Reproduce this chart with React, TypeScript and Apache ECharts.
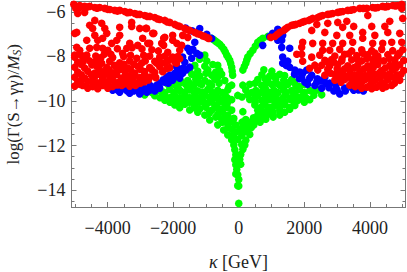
import React, { useEffect, useRef } from "react";
import * as echarts from "echarts";

const xLabels = [-4000, -2000, 0, 2000, 4000];
const yLabels = [-14, -12, -10, -8, -6];
const xMinor = [-5000,-4500,-3500,-3000,-2500,-1500,-1000,-500,500,1000,1500,2500,3000,3500,4500,5000];
const yMinor = [-14.5,-13.5,-13,-12.5,-11.5,-11,-10.5,-9.5,-9,-8.5,-7.5,-7,-6.5,-5.5];

const redLeftArc = [[-5030,-5.66],[-4970,-5.84],[-4850,-5.71],[-4700,-5.75],[-4545,-5.75],[-4390,-5.8],[-4240,-5.8],[-4085,-5.84],[-3930,-5.89],[-3780,-5.93],[-3630,-5.93],[-3475,-5.98],[-3320,-6.02],[-3170,-6.07],[-3020,-6.11],[-2865,-6.16],[-2710,-6.2],[-2560,-6.25],[-2410,-6.34],[-2255,-6.38],[-2100,-6.47],[-1950,-6.56],[-1800,-6.65],[-1645,-6.74],[-1495,-6.83],[-1340,-6.92],[-1190,-7.0],[-1035,-7.1],[-915,-7.19],[-4620,-5.78],[-4320,-5.83],[-4000,-5.88],[-3700,-5.96],[-3400,-6.03],[-3100,-6.11],[-2790,-6.2],[-2480,-6.31],[-2180,-6.45],[-1870,-6.62],[-1570,-6.8],[-1260,-6.98],[-1110,-7.07],[-960,-7.16]];
const redLeftSparse = [[-4850,-5.8],[-4910,-6.07],[-4700,-6.02],[-4390,-6.38],[-4545,-6.6],[-4180,-6.51],[-4455,-6.74],[-4085,-6.74],[-4940,-6.92],[-5000,-6.96],[-4390,-7.05],[-4635,-7.27],[-4025,-6.96],[-3630,-6.69],[-3265,-6.47],[-3265,-6.65],[-2835,-6.74],[-3630,-7.05],[-3720,-7.27],[-3875,-7.41],[-4150,-7.18],[-4300,-7.27],[-2625,-6.96],[-3325,-7.41],[-3415,-7.63],[-2930,-7.18],[-2775,-7.41],[-3080,-7.5],[-3540,-7.86],[-4940,-7.59],[-5000,-7.94],[-4850,-7.72],[-4545,-7.63],[-4330,-7.59],[-4635,-7.94],[-4150,-7.63],[-3995,-7.72],[-2590,-6.96],[-2255,-7.14],[-2015,-7.05],[-1710,-7.05],[-1555,-7.14],[-2350,-7.41],[-2015,-7.27],[-1740,-7.5],[-1800,-7.72],[-2165,-7.81],[-2015,-8.03],[-2715,-7.41],[-3020,-6.74],[-2810,-6.74],[-2290,-7.18],[-2290,-7.5],[-1890,-7.41],[-3250,-7.6],[-2950,-7.66],[-2650,-7.7],[-2450,-7.75],[-3700,-7.65],[-3900,-7.9]];
const redLeftDense = [[-5000,-8.03],[-4730,-8.08],[-4360,-7.98],[-3845,-8.05],[-3510,-8.0],[-3110,-8.08],[-2715,-7.98],[-2410,-8.03],[-2045,-8.08],[-1860,-8.0],[-4910,-8.26],[-4545,-8.2],[-4180,-8.3],[-3935,-8.22],[-3630,-8.28],[-3325,-8.2],[-2960,-8.3],[-2560,-8.22],[-2255,-8.28],[-1950,-8.24],[-5000,-8.48],[-4700,-8.52],[-4330,-8.44],[-4025,-8.5],[-3690,-8.46],[-3385,-8.52],[-3080,-8.44],[-2715,-8.5],[-2410,-8.46],[-2105,-8.5],[-4910,-8.7],[-4605,-8.66],[-4390,-8.74],[-4085,-8.68],[-3780,-8.72],[-3475,-8.66],[-3170,-8.74],[-2870,-8.68],[-2560,-8.72],[-2320,-8.68],[-5000,-8.93],[-4700,-8.97],[-4390,-8.9],[-4150,-8.95],[-3875,-8.9],[-3570,-8.97],[-3325,-8.9],[-3020,-8.95],[-2715,-8.92],[-2530,-8.95],[-4910,-9.15],[-4605,-9.12],[-4300,-9.18],[-3995,-9.13],[-3690,-9.17],[-3385,-9.12],[-3170,-9.17],[-2870,-9.13],[-5000,-9.33],[-4760,-9.3],[-4455,-9.35],[-4150,-9.3],[-3845,-9.35],[-3570,-9.3],[-3325,-9.33],[-4605,-9.42],[-4300,-9.45],[-3995,-9.42]];
const redLeftFill = [[-4800,-8.36],[-4480,-8.38],[-4250,-8.58],[-3950,-8.6],[-3620,-8.58],[-3300,-8.6],[-3000,-8.58],[-2650,-8.6],[-4800,-8.82],[-4500,-8.82],[-4250,-8.8],[-3980,-8.82],[-3720,-8.82],[-3450,-8.82],[-3170,-8.85],[-2870,-8.82],[-4800,-9.05],[-4450,-9.05],[-4150,-9.05],[-3850,-9.05],[-3530,-9.05],[-3280,-9.05],[-3000,-9.05],[-2750,-9.05],[-4850,-9.25],[-4450,-9.2],[-4000,-9.25],[-3700,-9.28],[-3480,-9.22],[-3150,-9.3],[-3000,-9.2],[-4750,-8.25],[-4350,-8.2],[-3790,-8.4],[-3500,-8.35],[-3200,-8.35],[-2850,-8.2],[-2400,-8.25],[-2150,-8.2],[-4800,-7.95],[-4200,-8.05],[-3300,-7.95],[-2900,-7.95],[-2250,-7.98],[-1800,-8.1],[-1900,-8.3],[-2200,-8.55],[-2500,-8.3],[-4100,-7.9]];
const redRightArc = [[975,-7.14],[1100,-7.1],[1250,-6.92],[1370,-6.83],[1495,-6.69],[1615,-6.6],[1740,-6.56],[1860,-6.51],[2015,-6.42],[2135,-6.38],[2255,-6.29],[2410,-6.25],[2560,-6.16],[2715,-6.11],[2865,-6.07],[3020,-6.02],[3170,-5.98],[3325,-5.93],[3505,-5.89],[3690,-5.84],[3905,-5.84],[4085,-5.8],[4240,-5.8],[4390,-5.75],[4545,-5.75],[4700,-5.71],[4850,-5.71],[4970,-5.66],[4970,-5.84],[1180,-7.0],[1430,-6.76],[1680,-6.58],[1940,-6.46],[2190,-6.34],[2480,-6.2],[2790,-6.09],[3090,-6.0],[3420,-5.92],[3800,-5.84],[4165,-5.82],[4470,-5.77],[4780,-5.73]];
const redRightSparse = [[3935,-6.16],[2380,-6.56],[2225,-6.83],[2715,-6.51],[3020,-6.47],[3295,-6.42],[3170,-6.69],[3505,-6.65],[4055,-6.65],[4455,-6.65],[4605,-6.42],[5000,-6.29],[4545,-6.92],[4910,-6.96],[2625,-6.92],[2990,-7.05],[3385,-7.05],[3780,-6.92],[4150,-7.05],[3780,-7.18],[1950,-7.36],[1920,-7.59],[1770,-7.9],[1920,-7.9],[1950,-8.21],[2255,-7.41],[2560,-7.41],[2560,-7.72],[2225,-8.03],[2320,-8.39],[2165,-8.53],[2865,-7.41],[3170,-7.41],[3475,-7.36],[4085,-7.41],[4390,-7.41],[4665,-7.36],[4970,-7.36]];
const redRightDense = [[2775,-7.72],[3080,-7.68],[3445,-7.75],[3750,-7.7],[4055,-7.74],[4360,-7.68],[4695,-7.74],[5000,-7.7],[2470,-7.94],[2930,-7.98],[3230,-7.9],[3600,-7.96],[3935,-7.92],[4240,-7.98],[4545,-7.92],[4850,-7.96],[2625,-8.17],[2835,-8.14],[3140,-8.2],[3445,-8.15],[3750,-8.2],[4085,-8.14],[4420,-8.2],[4760,-8.15],[5030,-8.18],[2530,-8.39],[2775,-8.42],[3020,-8.36],[3325,-8.42],[3630,-8.38],[3935,-8.42],[4240,-8.36],[4605,-8.41],[4910,-8.37],[2410,-8.61],[2715,-8.58],[3080,-8.64],[3385,-8.6],[3690,-8.64],[3995,-8.58],[4360,-8.63],[4695,-8.6],[5030,-8.63],[2625,-8.84],[2930,-8.8],[3230,-8.86],[3540,-8.82],[3845,-8.86],[4150,-8.8],[4455,-8.85],[4820,-8.82],[2930,-9.06],[3230,-9.03],[3540,-9.08],[3845,-9.04],[4150,-9.08],[4545,-9.04],[4910,-9.07],[3385,-9.29],[3690,-9.26],[3995,-9.31],[4300,-9.27],[4665,-9.3],[3750,-9.42],[4055,-9.45],[4390,-9.42]];
const redRightFill = [[3000,-8.55],[3230,-8.55],[3520,-8.5],[3820,-8.55],[4100,-8.5],[4470,-8.52],[4800,-8.5],[2800,-8.75],[3100,-8.78],[3400,-8.75],[3700,-8.75],[4000,-8.75],[4300,-8.72],[4600,-8.78],[4950,-8.8],[3050,-8.97],[3400,-8.95],[3700,-8.97],[4000,-8.95],[4300,-8.97],[4650,-8.92],[4800,-9.05],[3120,-9.15],[3450,-9.18],[3750,-9.15],[4050,-9.18],[4400,-9.18],[4750,-9.2],[3550,-9.35],[3900,-9.38],[4200,-9.38],[4500,-9.35],[3150,-8.1],[3600,-8.1],[3900,-8.1],[4250,-8.1],[4600,-8.1],[4900,-7.85],[3350,-7.88],[3780,-7.85],[4150,-7.85],[2700,-8.25],[2900,-8.25],[4100,-8.3],[4750,-8.35]];

const blueLeft = [[-1340,-7.36],[-1555,-7.63],[-1400,-7.68],[-1495,-7.77],[-1190,-7.94],[-1280,-7.86],[-1710,-8.03],[-1435,-8.08],[-1645,-8.26],[-1495,-8.48],[-1710,-8.53],[-1860,-8.61],[-1710,-8.75],[-1950,-8.75],[-1800,-8.97],[-2105,-8.84],[-2015,-9.06],[-2195,-8.93],[-2255,-9.15],[-2410,-9.2],[-2500,-9.29],[-2410,-9.42],[-2625,-9.42],[-2715,-9.51],[-2900,-9.4],[-3100,-9.45],[-3400,-9.55],[-3630,-9.6],[-3325,-9.65],[-3020,-9.68],[-2800,-9.6],[-2560,-9.55],[-3845,-9.51],[-1190,-6.75],[-975,-7.0],[-825,-7.19],[-1900,-8.9],[-2300,-9.05],[-2150,-9.2],[-2700,-9.3],[-3200,-9.55],[-3500,-9.45],[-3700,-9.5],[-2900,-9.55],[-1900,-8.45],[-1600,-8.6],[-1800,-8.75],[-1420,-6.85],[-1620,-6.72]];
const blueRight = [[730,-7.5],[945,-7.1],[1035,-6.96],[1190,-6.78],[1310,-7.27],[1190,-7.27],[1340,-7.05],[1310,-7.59],[1555,-7.63],[1340,-8.03],[1340,-8.3],[1495,-8.21],[1555,-8.48],[1710,-8.61],[1860,-8.7],[1920,-8.93],[2075,-8.61],[2225,-8.84],[2015,-9.15],[2380,-9.15],[2530,-9.42],[2320,-9.3],[2165,-8.97],[2625,-8.93],[2775,-9.2],[2900,-9.55],[3080,-9.68],[2960,-9.3],[3230,-9.42],[3505,-9.51],[3800,-9.55],[3450,-9.4],[1700,-8.8],[1850,-9.0],[2100,-9.25],[2400,-9.0],[2650,-9.2],[2500,-9.1],[2750,-9.4],[3000,-9.5],[3250,-9.55],[3650,-9.5],[1450,-8.4],[1950,-8.75]];

const greenArcs = [[-820,-7.19],[-700,-7.32],[-580,-7.45],[-455,-7.68],[-365,-7.94],[-275,-8.17],[-215,-8.48],[-185,-8.84],[125,-8.61],[215,-8.3],[275,-8.03],[430,-7.72],[580,-7.36],[735,-7.18],[890,-7.1],[-760,-7.25],[-640,-7.38],[-520,-7.55],[-410,-7.8],[-320,-8.05],[-245,-8.32],[-200,-8.66],[170,-8.45],[245,-8.16],[350,-7.87],[505,-7.54],[655,-7.27]];
const greenBody = [[-1035,-7.94],[-1190,-8.12],[-975,-8.2],[-1340,-8.4],[-1035,-8.44],[-790,-8.36],[-640,-8.4],[-1495,-8.6],[-1250,-8.66],[-945,-8.6],[-580,-8.64],[765,-8.6],[1010,-8.66],[-1800,-8.84],[-1435,-8.8],[-1190,-8.88],[-825,-8.84],[-520,-8.8],[705,-8.82],[945,-8.88],[1250,-8.8],[1400,-8.86],[-2105,-9.06],[-1860,-9.02],[-1555,-9.08],[-1310,-9.04],[-1035,-9.08],[-730,-9.02],[-425,-9.08],[580,-9.04],[885,-9.08],[1130,-9.02],[1370,-9.08],[1615,-9.04],[-2470,-9.29],[-2165,-9.25],[-1920,-9.31],[-1615,-9.26],[-1370,-9.3],[-1130,-9.26],[-825,-9.3],[-215,-9.29],[125,-9.29],[335,-9.25],[700,-9.3],[1010,-9.26],[1250,-9.3],[1490,-9.26],[1740,-9.3],[2015,-9.26],[-2715,-9.5],[-2410,-9.53],[-2105,-9.48],[-1800,-9.52],[-1495,-9.5],[-1250,-9.54],[-945,-9.48],[-640,-9.52],[-335,-9.5],[215,-9.5],[520,-9.53],[825,-9.48],[1070,-9.52],[1370,-9.5],[1615,-9.53],[1860,-9.49],[2165,-9.53],[-2870,-9.73],[-2560,-9.76],[-2255,-9.7],[-1950,-9.75],[-1645,-9.71],[-1340,-9.76],[-1035,-9.7],[-730,-9.75],[-425,-9.72],[-30,-9.75],[275,-9.72],[580,-9.76],[885,-9.7],[1130,-9.75],[1430,-9.71],[1740,-9.76],[1980,-9.7],[2290,-9.74],[2530,-9.72],[-2255,-9.96],[-1950,-9.92],[-1645,-9.98],[-1340,-9.93],[-1100,-9.97],[-790,-9.92],[-490,-9.98],[-215,-9.94],[335,-9.93],[700,-9.98],[945,-9.93],[1250,-9.97],[1555,-9.92],[1800,-9.98],[2165,-9.94],[-1950,-10.18],[-1645,-10.14],[-1340,-10.2],[-1035,-10.15],[-730,-10.2],[-425,-10.14],[490,-10.18],[795,-10.14],[1100,-10.2],[1400,-10.15],[1710,-10.2],[-1495,-10.4],[-1190,-10.36],[-825,-10.42],[-520,-10.37],[-215,-10.41],[580,-10.42],[885,-10.37],[1250,-10.41],[1555,-10.37],[-1035,-10.63],[-640,-10.6],[-335,-10.64],[580,-10.64],[885,-10.6],[1250,-10.63],[-885,-10.85],[-520,-10.82],[-275,-10.86],[215,-10.83],[520,-10.86],[825,-10.82],[-640,-11.07],[-335,-11.04],[-90,-11.08],[215,-11.05],[460,-11.08],[-460,-11.3],[-215,-11.27],[30,-11.3],[275,-11.28],[-335,-11.52],[-150,-11.5],[90,-11.53],[335,-11.5],[-215,-11.74],[-30,-11.72],[215,-11.76],[-150,-11.97],[90,-11.95],[185,-11.98],[-120,-12.19],[125,-12.17],[-90,-12.41],[60,-12.4],[-120,-12.64],[30,-12.62],[-90,-12.86],[60,-12.84],[-60,-13.08],[-30,-13.31],[-90,-13.28],[0,-13.53],[-30,-13.8],[0,-13.82],[0,-14.6],[125,-10.48]];
const greenFill = [[-2300,-9.6],[-1980,-9.62],[-1650,-9.6],[-1350,-9.62],[-1100,-9.6],[-800,-9.62],[-500,-9.62],[-2650,-9.62],[-2400,-9.85],[-2100,-9.85],[-1800,-9.85],[-1500,-9.85],[-1200,-9.85],[-900,-9.82],[-620,-9.85],[-350,-9.85],[-2100,-10.05],[-1800,-10.05],[-1500,-10.05],[-1200,-10.05],[-900,-10.05],[-600,-10.05],[-350,-10.1],[-1800,-10.3],[-1350,-10.3],[-1000,-10.28],[-670,-10.3],[-350,-10.3],[-1250,-10.5],[-900,-10.55],[-500,-10.5],[-700,-10.72],[-400,-10.75],[-150,-10.78],[450,-10.75],[700,-10.72],[1050,-10.72],[-500,-10.95],[-180,-10.95],[100,-10.95],[350,-10.95],[650,-10.95],[100,-11.2],[380,-11.2],[-330,-11.2],[-100,-11.4],[150,-11.4],[2290,-9.6],[2000,-9.62],[1700,-9.62],[1450,-9.62],[1200,-9.62],[950,-9.62],[700,-9.6],[400,-9.62],[2050,-9.85],[1850,-9.85],[1600,-9.85],[1350,-9.85],[1050,-9.85],[800,-9.85],[500,-9.85],[100,-9.82],[2000,-10.05],[1680,-10.05],[1400,-10.05],[1100,-10.05],[800,-10.05],[500,-10.05],[1550,-10.28],[1250,-10.28],[950,-10.28],[680,-10.28],[1400,-10.5],[1050,-10.5],[750,-10.5],[1700,-9.15],[1400,-9.2],[1150,-9.2],[850,-9.2],[500,-9.2],[-600,-9.2],[-900,-9.2],[-1200,-9.2],[-1500,-9.2],[-1750,-9.15],[-2050,-9.2],[-300,-9.35],[-1000,-8.75],[-700,-8.7],[-1300,-8.95],[-650,-8.95],[-1550,-9.4],[-1850,-9.4],[1100,-8.9],[800,-9.0],[1550,-9.15],[1850,-9.35],[2400,-9.5]];

const serif = "'Liberation Serif', 'Times New Roman', serif";
const frame = "#777777";

const tickAxis = (position: string, values: number[], len: number, min: number, max: number, labels: boolean, margin: number, name?: any) => ({
  type: "value", position, min, max, scale: true,
  splitLine: { show: false },
  axisLine: { show: true, onZero: false, lineStyle: { color: frame, width: 1 } },
  axisTick: { show: true, inside: true, length: len, customValues: values, lineStyle: { color: frame, width: 1 } },
  axisLabel: labels
    ? { show: true, customValues: values, fontFamily: serif, fontSize: 18, color: "#222", margin, hideOverlap: false, formatter: (v: number) => String(v).replace("-", "\u2212") }
    : { show: false },
  ...(name || {}),
});

export default function App() {
  const ref = useRef<HTMLDivElement>(null);
  useEffect(() => {
    document.body.style.margin = "0";
    const chart = echarts.init(ref.current!, undefined, { renderer: "svg" });
    const xMin = -5100, xMax = 5085, yMin = -14.76, yMax = -5.53;
    const scatter = (data: number[][], color: string, z: number) => ({
      type: "scatter", data, symbolSize: 7.6, z, silent: true,
      itemStyle: { color, opacity: 1 },
    });
    chart.setOption({
      animation: false,
      backgroundColor: "#ffffff",
      grid: { left: 71.5, right: 1.5, top: 1.5, bottom: 65, containLabel: false, outerBoundsMode: "none" },
      xAxis: [
        tickAxis("bottom", xLabels, 5, xMin, xMax, true, 12, {
          name: "{i|\u03ba} [GeV]", nameLocation: "middle", nameGap: 46,
          nameTextStyle: { fontFamily: serif, fontSize: 18, color: "#222", rich: { i: { fontFamily: serif, fontStyle: "italic", fontSize: 18, color: "#222" } } },
        }),
        tickAxis("bottom", xMinor, 3, xMin, xMax, false, 0),
        tickAxis("top", xLabels, 5, xMin, xMax, false, 0),
        tickAxis("top", xMinor, 3, xMin, xMax, false, 0),
      ],
      yAxis: [
        tickAxis("left", yLabels, 5, yMin, yMax, true, 6, {
          name: "log(\u0393(S\u2192\u03b3\u03b3)/{i|M}{s|S})", nameLocation: "middle", nameGap: 49, nameRotate: 90,
          nameTextStyle: { fontFamily: serif, fontSize: 17, color: "#222", rich: { i: { fontFamily: serif, fontStyle: "italic", fontSize: 17, color: "#222" }, s: { fontFamily: serif, fontStyle: "italic", fontSize: 12, color: "#222", verticalAlign: "bottom", padding: [6, 0, 0, 0] } } },
        }),
        tickAxis("left", yMinor, 3, yMin, yMax, false, 0),
        tickAxis("right", yLabels, 5, yMin, yMax, false, 0),
        tickAxis("right", yMinor, 3, yMin, yMax, false, 0),
      ],
      series: [
        scatter([...greenArcs, ...greenBody, ...greenFill], "#00ff00", 2),
        scatter([...blueLeft, ...blueRight], "#0000ff", 3),
        scatter([...redLeftArc, ...redLeftSparse, ...redLeftDense, ...redLeftFill, ...redRightArc, ...redRightSparse, ...redRightDense, ...redRightFill], "#ff0000", 4),
      ],
    });
    return () => chart.dispose();
  }, []);
  return <div ref={ref} style={{ width: 407, height: 272 }} />;
}
